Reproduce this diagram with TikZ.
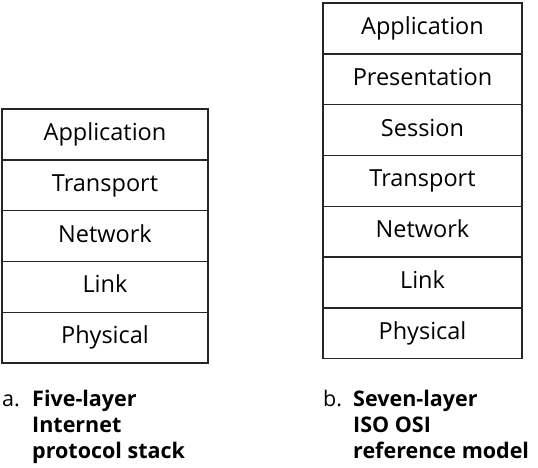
\documentclass[tikz,border=0pt]{standalone}
\usepackage{fontspec}
\setmainfont{Open Sans}
\usepackage{tikz}
\usetikzlibrary{positioning}

\begin{document}
\begin{tikzpicture}[
  node distance=0pt,
  layer/.style={rectangle, draw=black!85, line width=1.4pt, outer sep=0pt,
                minimum height=50.8pt, text height=17pt, text depth=5pt,
                align=center, font=\fontsize{23.5}{26}\selectfont},
  inet/.style={layer, minimum width=206pt},
  osi/.style={layer, minimum width=199pt},
  caption/.style={anchor=base west, align=left, inner sep=0pt,
                  font=\fontsize{21.5}{26}\selectfont},
  captext/.style={caption, font=\fontsize{21.5}{26}\selectfont\bfseries},
]
  \useasboundingbox (0,0) rectangle (538pt,-467pt);

  % five-layer internet stack
  \node[inet, anchor=north west] (iapp) at (2pt,-109pt) {Application};
  \node[inet, below=of iapp] (itrans) {Transport};
  \node[inet, below=of itrans] (inet) {Network};
  \node[inet, below=of inet] (ilink) {Link};
  \node[inet, below=of ilink] (iphys) {Physical};

  % seven-layer osi model
  \node[osi, anchor=north west] (oapp) at (323pt,-3pt) {Application};
  \node[osi, below=of oapp] (opres) {Presentation};
  \node[osi, below=of opres] (osess) {Session};
  \node[osi, below=of osess] (otrans) {Transport};
  \node[osi, below=of otrans] (onet) {Network};
  \node[osi, below=of onet] (olink) {Link};
  \node[osi, below=of olink] (ophys) {Physical};

  % captions (base of a multi-line node is its last line)
  \node[caption] (alabel) at (2pt,-406pt) {a.};
  \node[captext] (atext) at (32pt,-458pt) {Five-layer\\Internet\\protocol stack};
  \node[caption] (blabel) at (323pt,-406pt) {b.};
  \node[captext] (btext) at (353pt,-458pt) {Seven-layer\\ISO OSI\\reference model};
\end{tikzpicture}
\end{document}
